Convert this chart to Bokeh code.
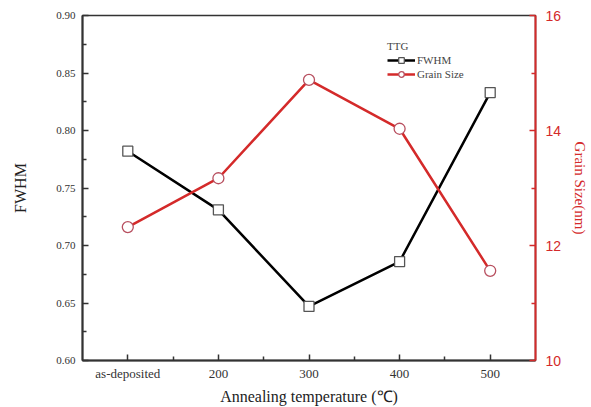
from bokeh.plotting import figure
from bokeh.models import Range1d, LinearAxis, FixedTicker, Legend, LegendItem, NumeralTickFormatter
from bokeh.embed import file_html
from bokeh.resources import INLINE

categories = ["as-deposited", "200", "300", "400", "500"]
fwhm = [0.782, 0.731, 0.647, 0.686, 0.833]
grain_size = [12.32, 13.17, 14.88, 14.03, 11.56]
fwhm_ticks = [0.60, 0.65, 0.70, 0.75, 0.80, 0.85, 0.90]
grain_ticks = [10, 12, 14, 16]

xs = list(range(len(categories)))
RED = "#d42a2a"
SERIF = "Liberation Serif"

p = figure(width=591, height=407, output_backend="svg", toolbar_location=None,
           x_range=Range1d(-0.5, len(categories) - 0.5), y_range=Range1d(0.60, 0.90),
           min_border_left=82, min_border_right=48, min_border_top=15, min_border_bottom=47)
p.extra_y_ranges = {"grain": Range1d(10, 16)}
p.grid.visible = False
p.outline_line_color = "#333333"
p.outline_line_width = 1.5
p.background_fill_color = "white"
p.border_fill_color = "white"

# axes
xa = p.xaxis[0]
xa.ticker = FixedTicker(ticks=xs, minor_ticks=[i + 0.5 for i in xs[:-1]])
xa.major_label_overrides = {i: c for i, c in zip(xs, categories)}
xa.axis_label = "Annealing temperature (\u2103)"
ya = p.yaxis[0]
ya.ticker = FixedTicker(ticks=fwhm_ticks, minor_ticks=[v + 0.025 for v in fwhm_ticks[:-1]])
ya.formatter = NumeralTickFormatter(format="0.00")
ya.axis_label = "FWHM"

ra = LinearAxis(y_range_name="grain", axis_label="Grain Size(nm)",
                ticker=FixedTicker(ticks=grain_ticks, minor_ticks=[11, 13, 15]))
p.add_layout(ra, "right")

for ax in (xa, ya):
    ax.axis_line_color = "#333333"
    ax.axis_line_width = 2
    ax.major_tick_line_color = "#333333"
    ax.minor_tick_line_color = "#333333"
    ax.major_tick_line_width = 1.5
    ax.minor_tick_line_width = 1.5
    ax.major_tick_in = 6
    ax.major_tick_out = 0
    ax.minor_tick_in = 4
    ax.minor_tick_out = 0
    ax.major_label_text_font = SERIF
    ax.major_label_text_color = "#333333"
    ax.axis_label_text_font = SERIF
    ax.axis_label_text_font_style = "normal"
    ax.axis_label_text_color = "#222222"
xa.major_label_text_font_size = "13px"
ya.major_label_text_font_size = "11px"
xa.axis_label_text_font_size = "16px"
ya.axis_label_text_font_size = "16px"
xa.major_label_standoff = 5
ya.major_label_standoff = 7
xa.axis_label_standoff = 4
ya.axis_label_standoff = 24

ra.axis_line_color = RED
ra.axis_line_width = 2
ra.major_tick_line_color = RED
ra.minor_tick_line_color = RED
ra.major_tick_line_width = 1.5
ra.minor_tick_line_width = 1.5
ra.major_tick_in = 6
ra.major_tick_out = 0
ra.minor_tick_in = 4
ra.minor_tick_out = 0
ra.major_label_text_font = "Liberation Sans"
ra.major_label_text_font_size = "14px"
ra.major_label_text_color = RED
ra.major_label_standoff = 10
ra.axis_label_text_font = SERIF
ra.axis_label_text_font_style = "normal"
ra.axis_label_text_font_size = "15px"
ra.axis_label_text_color = RED
ra.axis_label_standoff = 8

# series
l1 = p.line(xs, fwhm, line_color="black", line_width=2.5)
s1 = p.scatter(xs, fwhm, marker="square", size=10, fill_color="white",
               line_color="#555555", line_width=1.3)
l2 = p.line(xs, grain_size, line_color=RED, line_width=2.5, y_range_name="grain")
s2 = p.scatter(xs, grain_size, marker="circle", size=11, fill_color="white",
               line_color="#b85060", line_width=1.3, y_range_name="grain")

legend = Legend(items=[LegendItem(label="FWHM", renderers=[l1, s1]),
                       LegendItem(label="Grain Size", renderers=[l2, s2])],
                location=(305, 279), title="TTG")
legend.title_text_font = SERIF
legend.title_text_font_style = "normal"
legend.title_text_font_size = "11px"
legend.title_standoff = 1
legend.label_text_font = SERIF
legend.label_text_font_size = "11px"
legend.label_standoff = 2
legend.glyph_width = 28
legend.glyph_height = 14
legend.label_height = 14
legend.spacing = 0
legend.padding = 3
legend.margin = 0
legend.border_line_color = None
legend.background_fill_alpha = 0
p.add_layout(legend)

open("out.html", "w").write(file_html(p, INLINE))
